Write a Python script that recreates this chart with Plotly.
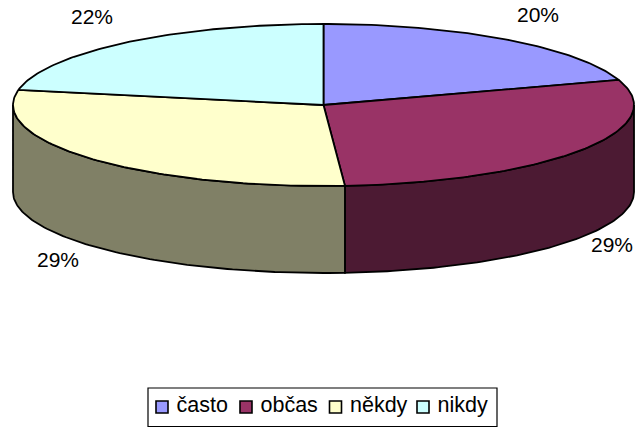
import numpy as np
import plotly.graph_objects as go

categories = ["často", "občas", "někdy", "nikdy"]
shares = [20, 28.9, 29.1, 22]
top_colors = ["#9999FF", "#993366", "#FFFFCC", "#CCFFFF"]
side_colors = ["#4D4D80", "#4C1A33", "#808066", "#668080"]

# label centres in the picture, in the order of the shares
label_pos = [(538, 17), (612, 247), (58, 262), (92, 19)]
# legend swatch centres and text starts
swatch_x = [162, 246, 335.5, 423]
text_x = [176.5, 260.5, 350, 437.5]
LEG_Y = 407

W, H = 637, 427
CX, CY, RX, RY, DEPTH = 323.5, 105, 310.5, 81, 87
LINE = dict(color="black", width=1.8)


def rim(t0, t1, drop=0.0):
    n = max(2, int(abs(t1 - t0) / 1.0) + 2)
    t = np.radians(np.linspace(t0, t1, n))
    return CX + RX * np.sin(t), CY - RY * np.cos(t) + drop


fig = go.Figure()
edges = np.concatenate([[0], np.cumsum(shares)]) * 360.0 / sum(shares)

# visible outer walls: front half only
for i, name in enumerate(categories):
    a, b = max(edges[i], 90), min(edges[i + 1], 270)
    if b <= a:
        continue
    xt, yt = rim(a, b)
    xb, yb = rim(b, a, DEPTH)
    fig.add_trace(go.Scatter(
        x=np.r_[xt, xb, xt[0]], y=np.r_[yt, yb, yt[0]], mode="lines",
        fill="toself", fillcolor=side_colors[i], line=LINE,
        hoverinfo="skip", showlegend=False))

# top faces
for i, name in enumerate(categories):
    xt, yt = rim(edges[i], edges[i + 1])
    fig.add_trace(go.Scatter(
        x=np.r_[CX, xt, CX], y=np.r_[CY, yt, CY], mode="lines",
        fill="toself", fillcolor=top_colors[i], line=LINE,
        name=name, showlegend=False))

# percentage labels
fig.add_trace(go.Scatter(
    x=[p[0] for p in label_pos], y=[p[1] for p in label_pos], mode="text",
    text=[f"{round(v)}%" for v in shares], textposition="middle center",
    textfont=dict(family="Liberation Sans", size=21, color="black"),
    hoverinfo="skip", showlegend=False))

# legend
fig.add_shape(type="rect", x0=148, x1=497, y0=388, y1=426.5,
              line=dict(color="black", width=1.2), fillcolor="white", layer="below")
fig.add_trace(go.Scatter(
    x=swatch_x, y=[LEG_Y] * 4, mode="markers",
    marker=dict(symbol="square", size=12, color=top_colors,
                line=dict(color="black", width=1.6)),
    hoverinfo="skip", showlegend=False))
fig.add_trace(go.Scatter(
    x=text_x, y=[LEG_Y] * 4, mode="text", text=categories,
    textposition="middle right",
    textfont=dict(family="Liberation Sans", size=21.5, color="black"),
    hoverinfo="skip", showlegend=False))

fig.update_layout(
    width=W, height=H, margin=dict(l=0, r=0, t=0, b=0),
    paper_bgcolor="white", plot_bgcolor="white", showlegend=False,
    xaxis=dict(range=[0, W], visible=False, fixedrange=True),
    yaxis=dict(range=[H, 0], visible=False, fixedrange=True),
)
fig.write_html("out.html", config={"displayModeBar": False},
               post_script="document.body.style.margin='0';document.body.style.overflow='hidden';")
